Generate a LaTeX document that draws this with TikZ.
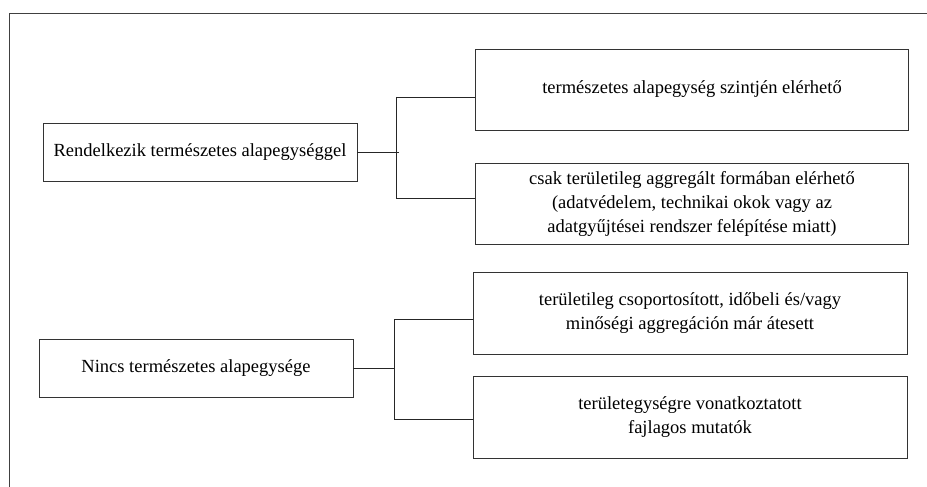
\documentclass[tikz,border=0pt]{standalone}
\usepackage{fontspec}
\setmainfont{Liberation Serif}
\usetikzlibrary{positioning}

\begin{document}
\begin{tikzpicture}[
    x=1pt, y=-1pt,
    box/.style={
        draw=black!80,
        rectangle,
        line width=0.9pt,
        minimum width=314pt,
        minimum height=58pt,
        align=center,
        fill=white,
        font=\fontsize{18.5}{24}\selectfont
    },
    leaf/.style={
        box,
        minimum width=433pt,
        minimum height=81pt
    },
    link/.style={
        draw=black!85,
        line width=0.9pt
    }
]
\useasboundingbox (0,0) rectangle (927,487);

% Frame
\draw[link, draw=black!75] (9,487) |- (927,13.5);

% Natural unit
\node[box] (natural) at (200,152) {Rendelkezik természetes alapegységgel};
\node[leaf] (atomic) at (692,89.5) {természetes alapegység szintjén elérhető};
\node[leaf] (aggregated) at (692,203.5) {csak területileg aggregált formában elérhető\\(adatvédelem, technikai okok vagy az\\adatgyűjtései rendszer felépítése miatt)};

% No natural unit
\node[box] (nonatural) at (196,368) {Nincs természetes alapegysége};
\node[leaf, minimum width=434pt, minimum height=82pt] (grouped) at (690,313) {területileg csoportosított, időbeli és/vagy\\minőségi aggregáción már átesett};
\node[leaf, minimum width=434pt, minimum height=82pt] (specific) at (690,417) {területegységre vonatkoztatott\\fajlagos mutatók};

% Forks
\coordinate (top1) at (396,97);
\coordinate (bot1) at (396,198);
\coordinate (top2) at (394,319);
\coordinate (bot2) at (394,419);

\draw[link] (natural.east) -- ++(42,0);
\draw[link] (top1) -- (bot1);
\draw[link] (top1) -- (top1 -| atomic.west);
\draw[link] (bot1) -- (bot1 -| aggregated.west);

\draw[link] (nonatural.east) -- (nonatural.east -| top2);
\draw[link] (top2) -- (bot2);
\draw[link] (top2) -- (top2 -| grouped.west);
\draw[link] (bot2) -- (bot2 -| specific.west);

\end{tikzpicture}
\end{document}
